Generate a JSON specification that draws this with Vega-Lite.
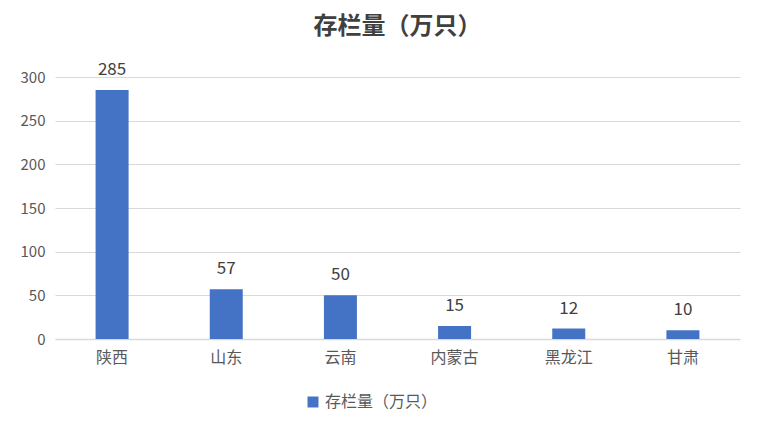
{
  "$schema": "https://vega.github.io/schema/vega-lite/v6.json",
  "width": 685,
  "height": 262,
  "autosize": {"type": "none"},
  "padding": {"left": 55, "top": 77, "right": 22, "bottom": 95},
  "background": "white",
  "config": {
    "view": {"stroke": null},
    "font": "Noto Sans CJK SC",
    "axis": {"labelFont": "Noto Sans CJK SC", "titleFont": "Noto Sans CJK SC"},
    "legend": {"labelFont": "Noto Sans CJK SC"}
  },
  "title": {
    "text": "存栏量（万只）",
    "fontSize": 24,
    "fontWeight": "bold",
    "color": "#404040",
    "anchor": "middle",
    "offset": 22
  },
  "data": {
    "values": [
      {"省份": "陕西", "存栏量": 285, "系列": "存栏量（万只）"},
      {"省份": "山东", "存栏量": 57, "系列": "存栏量（万只）"},
      {"省份": "云南", "存栏量": 50, "系列": "存栏量（万只）"},
      {"省份": "内蒙古", "存栏量": 15, "系列": "存栏量（万只）"},
      {"省份": "黑龙江", "存栏量": 12, "系列": "存栏量（万只）"},
      {"省份": "甘肃", "存栏量": 10, "系列": "存栏量（万只）"}
    ]
  },
  "encoding": {
    "x": {
      "field": "省份",
      "type": "nominal",
      "sort": null,
      "axis": {
        "title": null,
        "labelAngle": 0,
        "labelFontSize": 16,
        "labelColor": "#595959",
        "labelPadding": 10,
        "ticks": false,
        "domainColor": "#d9d9d9",
        "domainWidth": 1.5
      }
    },
    "y": {
      "field": "存栏量",
      "type": "quantitative",
      "scale": {"domain": [0, 300]},
      "axis": {
        "title": null,
        "values": [0, 50, 100, 150, 200, 250, 300],
        "labelFontSize": 15,
        "labelColor": "#595959",
        "labelPadding": 10,
        "ticks": false,
        "domain": false,
        "gridColor": "#d9d9d9",
        "gridWidth": 1
      }
    }
  },
  "layer": [
    {
      "mark": {"type": "bar", "size": 33},
      "encoding": {
        "color": {
          "field": "系列",
          "type": "nominal",
          "scale": {"range": ["#4472c4"]},
          "legend": {
            "title": null,
            "orient": "none",
            "legendX": 250,
            "legendY": 317,
            "symbolType": "square",
            "symbolSize": 120,
            "labelFontSize": 16,
            "labelColor": "#595959"
          }
        }
      }
    },
    {
      "mark": {"type": "text", "baseline": "bottom", "dy": -11, "fontSize": 17, "color": "#404040"},
      "encoding": {
        "text": {"field": "存栏量", "type": "quantitative"}
      }
    }
  ]
}
